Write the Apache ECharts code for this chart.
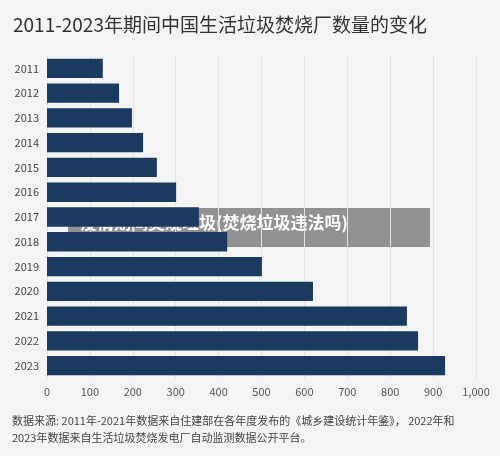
<!DOCTYPE html><html><head><meta charset="utf-8"><script src="https://cdn.jsdelivr.net/npm/echarts@6/dist/echarts.min.js"></script>
<style>body{margin:0;background:#f4f4f4}#c{width:500px;height:456px}</style></head><body><div id="c"></div><script>
const years=['2011','2012','2013','2014','2015','2016','2017','2018','2019','2020','2021','2022','2023'];
const counts=[130,168,198,224,256,301,354,420,501,620,839,865,928];
const xTicks=[0,100,200,300,400,500,600,700,800,900,1000];
const titleText='2011-2023年期间中国生活垃圾焚烧厂数量的变化';
const sourceText='数据来源: 2011年-2021年数据来自住建部在各年度发布的《城乡建设统计年鉴》， 2022年和\n2023年数据来自生活垃圾焚烧发电厂自动监测数据公开平台。';
const overlayText='疫情期间焚烧垃圾(焚烧垃圾违法吗)';
const ff='"Noto Sans CJK SC","Noto Sans",sans-serif';
const ch=echarts.init(document.getElementById('c'));
ch.setOption({backgroundColor:'#f4f4f4',textStyle:{fontFamily:ff},
title:{text:titleText,left:8,top:10,textStyle:{fontSize:19,fontWeight:'normal',color:'#333'}},
grid:{left:47,right:24,top:56,bottom:78},
xAxis:{type:'value',min:0,max:1000,interval:100,axisLabel:{fontSize:11,color:'#555'},splitLine:{lineStyle:{color:'#e2e2e2'}},axisLine:{show:false},axisTick:{show:false}},
yAxis:{type:'category',data:years,inverse:true,axisLabel:{fontSize:11,color:'#444'},axisLine:{show:false},axisTick:{show:false}},
series:[{type:'bar',data:counts,barCategoryGap:'22%',itemStyle:{color:'#1b3a5f'}}],
graphic:[{type:'text',left:12,top:412,style:{text:sourceText,font:'11px '+ff,fill:'#444',lineHeight:17}},
{type:'rect',shape:{x:68,y:208,width:362,height:39},style:{fill:'rgba(0,0,0,0.4)'}},
{type:'text',left:80,top:214,style:{text:overlayText,font:'bold 17px '+ff,fill:'#fff'}}]});
</script></body></html>
